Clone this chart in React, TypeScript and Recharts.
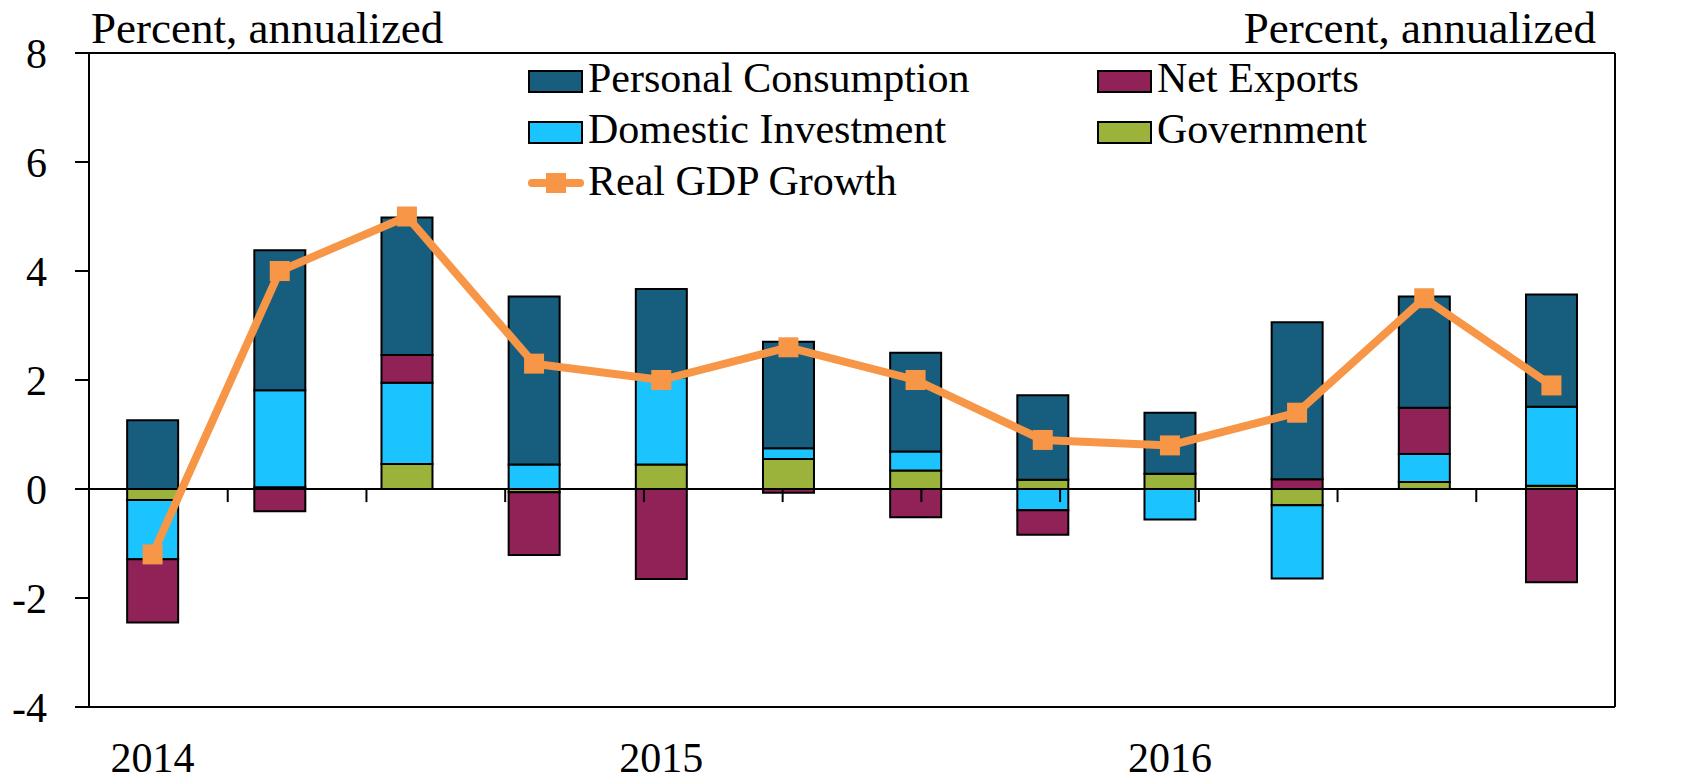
import { ComposedChart, Bar, Line, XAxis, YAxis, ReferenceLine } from "recharts";

const quarters = [
  "2014Q1", "2014Q2", "2014Q3", "2014Q4",
  "2015Q1", "2015Q2", "2015Q3", "2015Q4",
  "2016Q1", "2016Q2", "2016Q3", "2016Q4",
];
const yearLabels = ["2014", "", "", "", "2015", "", "", "", "2016", "", "", ""];

const government = [-0.2, 0.03, 0.46, -0.06, 0.45, 0.55, 0.34, 0.17, 0.28, -0.3, 0.13, 0.06];
const domesticInvestment = [-1.09, 1.78, 1.49, 0.45, 1.6, 0.2, 0.35, -0.39, -0.56, -1.34, 0.51, 1.45];
const netExports = [-1.16, -0.41, 0.51, -1.15, -1.65, -0.07, -0.52, -0.45, 0, 0.18, 0.85, -1.71];
const personalConsumption = [1.26, 2.57, 2.52, 3.08, 1.62, 1.95, 1.81, 1.55, 1.12, 2.88, 2.04, 2.06];
const realGdp = [-1.2, 4.0, 5.0, 2.3, 2.0, 2.6, 2.0, 0.9, 0.8, 1.4, 3.5, 1.9];

const yTicks = [-4, -2, 0, 2, 4, 6, 8];
const quarterEdges = [1, 2, 3, 4, 5, 6, 7, 8, 9, 10, 11];

const data = quarters.map((q, i) => ({
  q,
  gov: government[i],
  inv: domesticInvestment[i],
  nx: netExports[i],
  pce: personalConsumption[i],
  gdp: realGdp[i],
}));

const FONT = "'Liberation Serif', 'Times New Roman', serif";
const C = { pce: "#175D7E", inv: "#1BC4FF", nx: "#912257", gov: "#9BB33B", gdp: "#F79646" };

const tickStyle = { fill: "#000", fontSize: 42, fontFamily: FONT };

function SquareDot(props: any) {
  const { cx, cy, index } = props;
  return <rect key={`dot-${index}`} x={cx - 10} y={cy - 10} width={20} height={20} fill={C.gdp} />;
}

const legendBoxes = [
  { name: "Personal Consumption", color: C.pce, x: 529, y: 71 },
  { name: "Domestic Investment", color: C.inv, x: 529, y: 122 },
  { name: "Net Exports", color: C.nx, x: 1098, y: 71 },
  { name: "Government", color: C.gov, x: 1098, y: 122 },
];

export default function App() {
  return (
    <div style={{ position: "relative", width: 1704, height: 781, background: "#fff" }}>
      <style>{`body{margin:0}`}</style>
      <ComposedChart
        width={1704}
        height={781}
        data={data}
        stackOffset="sign"
        barCategoryGap="30%"
        margin={{ top: 53, right: 0, left: 0, bottom: 0 }}
      >
        <XAxis
          xAxisId="q"
          dataKey="q"
          height={74}
          interval={0}
          tickLine={false}
          tickSize={0}
          tickMargin={35}
          axisLine={{ stroke: "#000", strokeWidth: 2 }}
          tickFormatter={(_v: any, i: number) => yearLabels[i]}
          tick={tickStyle}
        />
        <XAxis xAxisId="edges" type="number" orientation="top" domain={[0, 12]} height={0} hide />
        <YAxis
          yAxisId="left"
          width={89}
          domain={[-4, 8]}
          ticks={yTicks}
          interval={0}
          tickSize={14}
          tickMargin={28}
          axisLine={{ stroke: "#000", strokeWidth: 2 }}
          tickLine={{ stroke: "#000", strokeWidth: 2 }}
          tick={tickStyle}
        />
        <YAxis
          yAxisId="right"
          orientation="right"
          width={89}
          domain={[-4, 8]}
          ticks={yTicks}
          interval={0}
          tickSize={13}
          tickMargin={29}
          axisLine={{ stroke: "#000", strokeWidth: 2 }}
          tickLine={{ stroke: "#000", strokeWidth: 2 }}
          tick={tickStyle}
        />
        <ReferenceLine xAxisId="q" yAxisId="left" y={8} stroke="#000" strokeWidth={2} />
        <Bar xAxisId="q" yAxisId="left" dataKey="gov" stackId="s" fill={C.gov} stroke="#000" strokeWidth={2} isAnimationActive={false} />
        <Bar xAxisId="q" yAxisId="left" dataKey="inv" stackId="s" fill={C.inv} stroke="#000" strokeWidth={2} isAnimationActive={false} />
        <Bar xAxisId="q" yAxisId="left" dataKey="nx" stackId="s" fill={C.nx} stroke="#000" strokeWidth={2} isAnimationActive={false} />
        <Bar xAxisId="q" yAxisId="left" dataKey="pce" stackId="s" fill={C.pce} stroke="#000" strokeWidth={2} isAnimationActive={false} />
        <ReferenceLine xAxisId="q" yAxisId="left" y={0} stroke="#000" strokeWidth={2} />
        {quarterEdges.map((e) => (
          <ReferenceLine
            key={e}
            xAxisId="edges"
            yAxisId="left"
            segment={[{ x: e, y: 0 }, { x: e, y: -0.24 }]}
            stroke="#000"
            strokeWidth={2}
          />
        ))}
        <Line
          xAxisId="q"
          yAxisId="left"
          dataKey="gdp"
          stroke={C.gdp}
          strokeWidth={8}
          dot={SquareDot}
          activeDot={false}
          isAnimationActive={false}
        />
      </ComposedChart>
      <svg
        width={1704}
        height={781}
        style={{ position: "absolute", left: 0, top: 0, pointerEvents: "none" }}
        fontFamily={FONT}
        fontSize={42}
      >
        <text x={91} y={43} fill="#000" fontSize={45}>Percent, annualized</text>
        <text x={1596} y={43} fill="#000" fontSize={45} textAnchor="end">Percent, annualized</text>
        {legendBoxes.map((b) => (
          <g key={b.name}>
            <rect x={b.x} y={b.y} width={53} height={21} fill={b.color} stroke="#000" strokeWidth={2} />
            <text x={b.x + 59} y={b.y + 21} fill="#000">{b.name}</text>
          </g>
        ))}
        <line x1={532} y1={183} x2={580} y2={183} stroke={C.gdp} strokeWidth={8} strokeLinecap="round" />
        <rect x={546} y={173} width={20} height={20} fill={C.gdp} />
        <text x={588} y={195} fill="#000">Real GDP Growth</text>
      </svg>
    </div>
  );
}
